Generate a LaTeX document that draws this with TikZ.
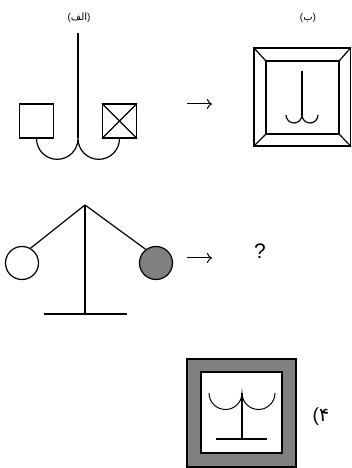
\documentclass[tikz,border=0pt]{standalone}
\usepackage{fontspec}
\setmainfont{Liberation Sans}
\newfontfamily\arabicfont[Script=Arabic]{DejaVu Sans}
\TeXXeTstate=1
\usetikzlibrary{arrows.meta}

\begin{document}
\begin{tikzpicture}[x=1pt, y=1pt, line width=1.2pt, >={To[length=5pt, width=10pt]},
    box/.style={draw, minimum size=34pt, inner sep=0pt},
    ball/.style={circle, draw, minimum size=33pt, inner sep=0pt},
    outerbox/.style={draw, inner sep=0pt},
    innerbox/.style={draw, fill=white, inner sep=0pt},
    lbl/.style={font=\fontsize{10}{12}\selectfont},
    thin arc/.style={line width=1pt}]
  \useasboundingbox (0,0) rectangle (352,468);
  % ---------------- (alef): stem with two cups ----------------
  \node[lbl] (labA) at (79,450) {({\arabicfont\beginR الف\endR})};
  \coordinate (topA) at (78,435); \coordinate (footA) at (78,330);
  \node[box] (sqL) at (36.5,347) {}; \node[box] (sqR) at (119.5,347) {};
  \draw (sqR.north west) -- (sqR.south east); \draw (sqR.south west) -- (sqR.north east);
  \draw (topA) -- (footA);
  \draw (sqL.south) arc[start angle=180, end angle=360, radius=20.75]
        arc[start angle=180, end angle=360, radius=20.75];
  % ---------------- arrow and (be): bevelled frame ----------------
  \coordinate (arA1) at (187,364); \coordinate (arA2) at (212,364);
  \draw[->, line width=1pt] (arA1) -- (arA2);
  \node[lbl] (labB) at (308,450) {({\arabicfont\beginR ب\endR})};
  \node[outerbox, minimum width=96.5pt, minimum height=98pt] (frB) at (302.25,371) {};
  \node[outerbox, minimum size=73pt] (inB) at (302.5,370.5) {};
  \foreach \c in {north west, north east, south west, south east} {
     \draw (frB.\c) -- (inB.\c);
  }
  \draw (302,397) -- (302,353);
  \draw (286,353) arc[start angle=180, end angle=360, radius=8]
        arc[start angle=180, end angle=360, radius=8];
  % ---------------- balance with two balls ----------------
  \coordinate (apex) at (85,263); \coordinate (footC) at (85,154);
  \coordinate (baseL) at (44,154); \coordinate (baseR) at (127,154);
  \node[ball] (ballL) at (22,205) {};
  \node[ball, fill=black!50] (ballR) at (156,205) {};
  \draw (apex) -- (footC); \draw (baseL) -- (baseR);
  \draw (apex) -- (ballL.60); \draw (apex) -- (ballR.127);
  \coordinate (arC1) at (187,210); \coordinate (arC2) at (212,210);
  \draw[->, line width=1pt] (arC1) -- (arC2);
  \node[font=\fontsize{21}{24}\selectfont] (quest) at (260,217) {?};
  % ---------------- answer (4): grey frame ----------------
  \node[outerbox, fill=black!50, minimum width=109pt, minimum height=108pt] (frD) at (241.5,55) {};
  \node[innerbox, minimum size=81pt] (inD) at (241.5,55.5) {};
  \draw (242,75) -- (242,29); \draw (216,29) -- (267,29);
  \draw[thin arc] (209,75) arc[start angle=180, end angle=360, radius=16.5]
        arc[start angle=180, end angle=360, radius=16.5];
  \node[font=\fontsize{19}{22}\selectfont] (labD) at (321,51) {({\arabicfont ۴}};
\end{tikzpicture}
\end{document}
